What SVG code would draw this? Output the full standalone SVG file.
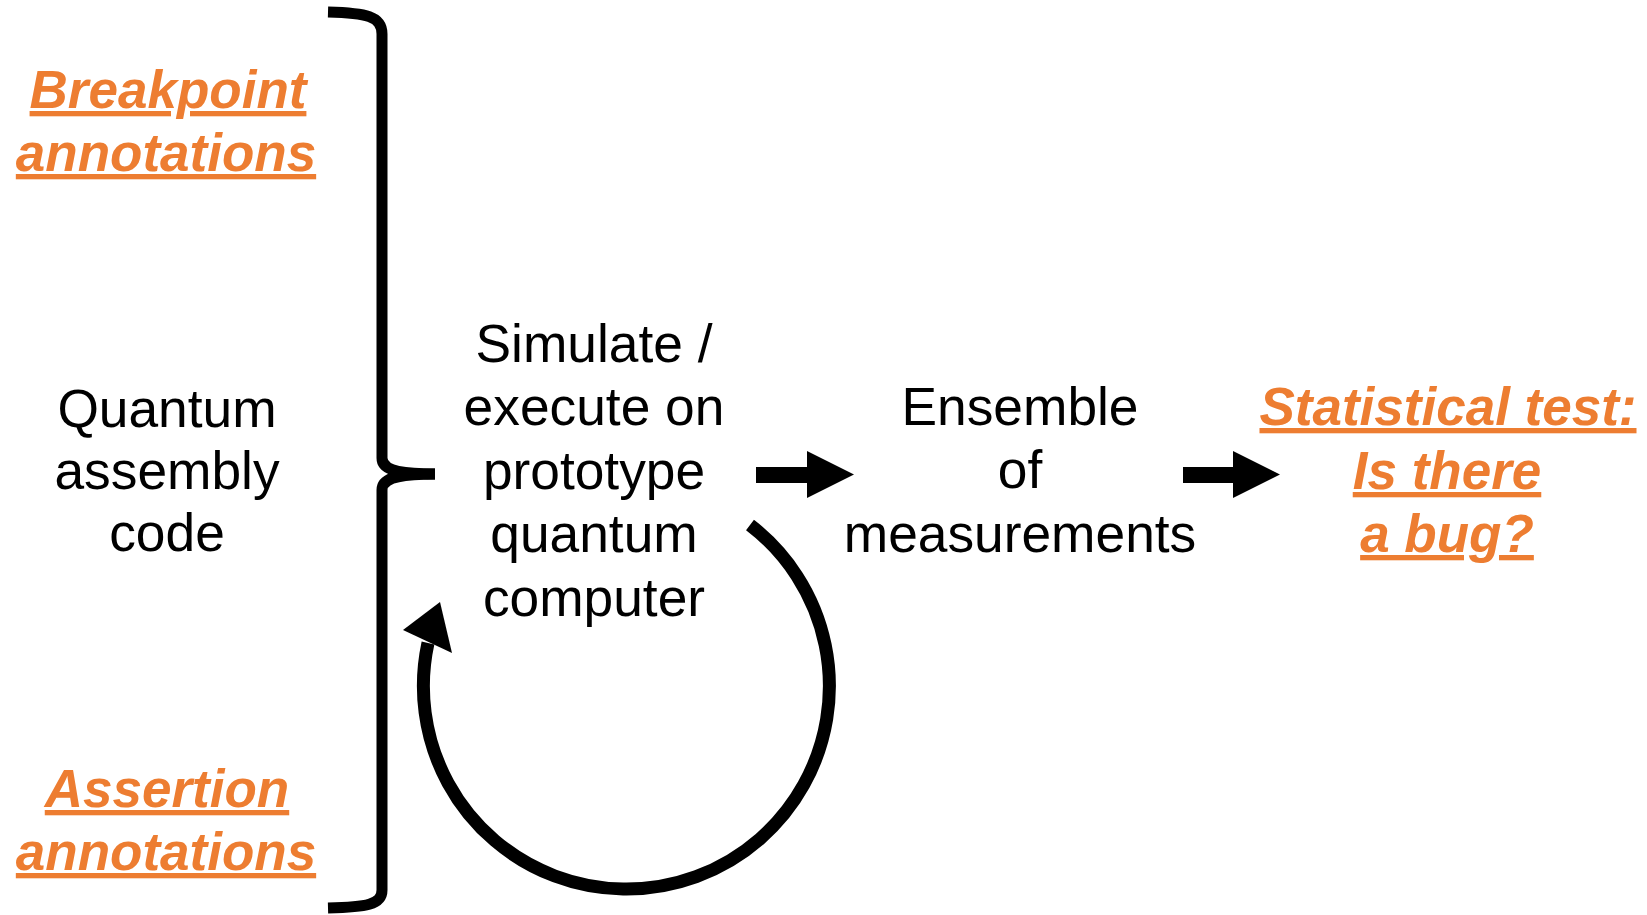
<svg xmlns="http://www.w3.org/2000/svg" width="1647" height="915" viewBox="0 0 1647 915">
<style>
.t{font-family:"Liberation Sans",Arial,sans-serif;font-size:53.3px;fill:#000;text-anchor:middle}
.o{font-family:"Liberation Sans",Arial,sans-serif;font-size:53px;font-weight:bold;font-style:italic;fill:#ED7D31;text-anchor:middle;text-decoration:underline}
.ln{fill:none;stroke:#000;stroke-width:11}
</style>
<rect width="1647" height="915" fill="#fff"/>
<g id="breakpoint">
<text class="o" x="168" y="108">Breakpoint</text>
<text class="o" x="166" y="171">annotations</text>
</g>
<g id="assertion">
<text class="o" x="167" y="807">Assertion</text>
<text class="o" x="166" y="870">annotations</text>
</g>
<g id="qasm">
<text class="t" x="167" y="427">Quantum</text>
<text class="t" x="167" y="489">assembly</text>
<text class="t" x="167" y="551">code</text>
</g>
<g id="simulate">
<text class="t" x="594" y="362">Simulate /</text>
<text class="t" x="594" y="425">execute on</text>
<text class="t" x="594" y="489">prototype</text>
<text class="t" x="594" y="552">quantum</text>
<text class="t" x="594" y="616">computer</text>
</g>
<g id="ensemble">
<text class="t" x="1020" y="425">Ensemble</text>
<text class="t" x="1020" y="488">of</text>
<text class="t" x="1020" y="552">measurements</text>
</g>
<g id="stattest">
<text class="o" x="1448" y="425">Statistical test:</text>
<text class="o" x="1447" y="489">Is there</text>
<text class="o" x="1447" y="552">a bug?</text>
</g>
<g id="connectors">
<path class="ln" d="M328,12 C366,13 382,16 382,34 L382,458 C382,468 392,474 435,474"/>
<path class="ln" d="M435,474 C392,474 382,480 382,490 L382,890 C382,905 366,907 328,908"/>
<path d="M756,467 L807,467 L807,451 L854,474.5 L807,498 L807,483 L756,483 Z" fill="#000"/>
<path d="M1183,467 L1233,467 L1233,451 L1280,474.5 L1233,498 L1233,483 L1183,483 Z" fill="#000"/>
<path d="M750,525 A203,203 0 1 1 428,643" fill="none" stroke="#000" stroke-width="13"/>
<polygon points="440,602 403,630 452,653" fill="#000"/>
</g>
</svg>
